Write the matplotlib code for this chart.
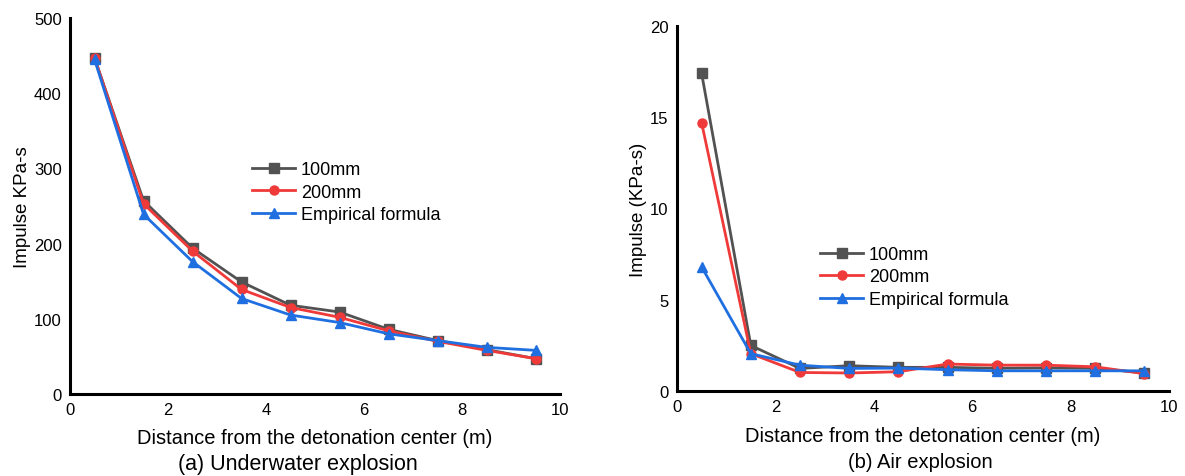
import matplotlib.pyplot as plt

plt.rcParams['font.family'] = ['Liberation Sans', 'DejaVu Sans']

distance = [0.5, 1.5, 2.5, 3.5, 4.5, 5.5, 6.5, 7.5, 8.5, 9.5]

# (a) underwater explosion
water_100mm = [447, 257, 194, 149, 118, 109, 86, 71, 59, 47]
water_200mm = [447, 253, 190, 139, 115, 102, 84, 70, 58, 47]
water_empirical = [445, 239, 176, 127, 105, 95, 80, 71, 62, 58]

# (b) air explosion
air_100mm = [17.4, 2.5, 1.24, 1.39, 1.3, 1.3, 1.25, 1.27, 1.25, 1.0]
air_200mm = [14.7, 2.05, 1.02, 0.99, 1.06, 1.48, 1.42, 1.42, 1.33, 0.95]
air_empirical = [6.8, 2.05, 1.42, 1.24, 1.26, 1.17, 1.11, 1.11, 1.11, 1.11]

labels = ['100mm', '200mm', 'Empirical formula']
colors = ['#525252', '#f03a3a', '#1f6fe0']
markers = ['s', 'o', '^']

fig = plt.figure(figsize=(11.85, 4.77), dpi=100)
ax1 = fig.add_axes([0.0591, 0.172, 0.4135, 0.788])
ax2 = fig.add_axes([0.5713, 0.178, 0.4152, 0.766])


def style(ax, ylabel, ymax, ystep):
    ax.set_xlim(0, 10)
    ax.set_ylim(0, ymax)
    ax.set_xticks(range(0, 11, 2))
    ax.set_yticks(range(0, ymax + 1, ystep))
    for s in ['top', 'right']:
        ax.spines[s].set_visible(False)
    for s in ['left', 'bottom']:
        ax.spines[s].set_linewidth(2.2)
    ax.tick_params(length=0, labelsize=12, pad=6)
    ax.set_ylabel(ylabel, fontsize=13.5, labelpad=2)
    ax.set_xlabel('Distance from the detonation center (m)', fontsize=14.5,
                  labelpad=8)


def legend(ax, x, y):
    ax.legend(loc='center left', bbox_to_anchor=(x, y),
              bbox_transform=fig.transFigure, frameon=False,
              fontsize=13, handlelength=2.4, handletextpad=0.3,
              labelspacing=0.3, borderpad=0, borderaxespad=0)


series1 = [water_100mm, water_200mm, water_empirical]
for ys, lab, c, m in zip(series1, labels, colors, markers):
    ax1.plot(distance, ys, color=c, marker=m, markersize=6.5, lw=2, label=lab)
style(ax1, 'Impulse KPa-s', 500, 100)
legend(ax1, 252 / 1185, 1 - 193 / 477)

series2 = [air_100mm, air_200mm, air_empirical]
for ys, lab, c, m in zip(series2, labels, colors, markers):
    ax2.plot(distance, ys, color=c, marker=m, markersize=6.5, lw=2, label=lab)
style(ax2, 'Impulse (KPa-s)', 20, 5)
legend(ax2, 820 / 1185, 1 - 278 / 477)

fig.text(298 / 1185, 1 - 465 / 477, '(a) Underwater explosion',
         fontsize=15.5, ha='center', va='center')
fig.text(920 / 1185, 1 - 463 / 477, '(b) Air explosion',
         fontsize=14.5, ha='center', va='center')

fig.savefig('out.png', dpi=100)
